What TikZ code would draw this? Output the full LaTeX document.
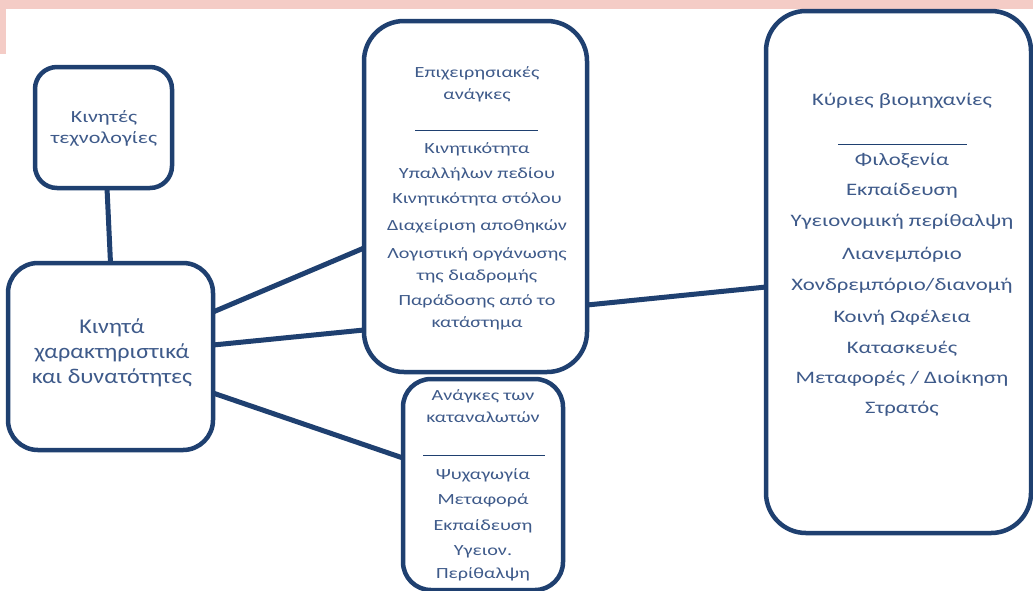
\documentclass[tikz,border=0pt]{standalone}
\usepackage{fontspec}
\setmainfont{Carlito}
\newfontfamily\wfont[FakeStretch=1.3]{Carlito}
\newfontfamily\mfont[FakeStretch=1.15]{Carlito}
\definecolor{navy}{RGB}{31,64,112}
\definecolor{txtblue}{RGB}{62,90,138}
\definecolor{pinkbar}{RGB}{244,204,198}
\begin{document}
\begin{tikzpicture}[x=1pt,y=-1pt,
  box/.style={draw=navy,line width=4.5pt,fill=white,inner sep=0pt,outer sep=0pt},
  conn/.style={draw=navy,line width=5pt},
  sep/.style={draw=navy,line width=1pt},
  txt/.style={text=txtblue,inner sep=0pt,anchor=center,text height=0.75em,text depth=0.25em}]
\useasboundingbox (0,0) rectangle (1033,590);
\fill[white] (0,0) rectangle (1033,590);
\fill[pinkbar] (0,0) rectangle (1033,9);
\fill[pinkbar] (0,0) rectangle (6,54);
% boxes
\node[box,rounded corners=22pt,minimum width=137pt,minimum height=121pt] (small) at (103.5,127.5) {};
\node[box,rounded corners=30pt,minimum width=205pt,minimum height=187pt] (main) at (110.5,356.5) {};
\node[box,rounded corners=40pt,minimum width=223pt,minimum height=351pt] (mid) at (475.5,196.5) {};
\node[box,rounded corners=28pt,minimum width=160pt,minimum height=211pt] (cons) at (483,484.5) {};
\node[box,rounded corners=40pt,minimum width=265pt,minimum height=522pt] (ind) at (898.5,272) {};
% connectors
\draw[conn] ([xshift=3.5pt]small.south) -- (main.north);
\draw[conn] ([yshift=44.5pt]main.east) -- ([yshift=-51.5pt]mid.west);
\draw[conn] ([yshift=11.5pt]main.east) -- ([yshift=-133.5pt]mid.west);
\draw[conn] ([yshift=-36.5pt]main.east) -- ([yshift=26.5pt]cons.west);
\draw[conn] ([yshift=-108.5pt]mid.east) -- ([yshift=-15pt]ind.west);
% small box text
\foreach \t/\y [count=\i] in {{Κινητές}/120,{τεχνολογίες}/141}
  \node[txt,font=\wfont\fontsize{17}{20}\selectfont] (st\i) at (104,\y) {\t};
% main box text
\foreach \t/\y [count=\i] in {{Κινητά}/331,{χαρακτηριστικά}/356,{και δυνατότητες}/381}
  \node[txt,font=\mfont\fontsize{21}{25}\selectfont] (mt\i) at (112,\y) {\t};
% middle box text
\foreach \t/\y [count=\i] in {{Επιχειρησιακές}/75,{ανάγκες}/97,{Κινητικότητα}/151,{Υπαλλήλων πεδίου}/176,{Κινητικότητα στόλου}/201,{Διαχείριση αποθηκών}/228,{Λογιστική οργάνωσης}/256,{της διαδρομής}/278,{Παράδοσης από το}/303,{κατάστημα}/325}
  \node[txt,font=\wfont\fontsize{15.5}{18}\selectfont] (bt\i) at (477,\y) {\t};
\draw[sep] (415,130) -- (538,130);
% consumer box text
\foreach \t/\y [count=\i] in {{Ανάγκες των}/398,{καταναλωτών}/420,{Ψυχαγωγία}/477,{Μεταφορά}/502,{Εκπαίδευση}/528,{Υγειον.}/553,{Περίθαλψη}/576}
  \node[txt,font=\wfont\fontsize{15.5}{18}\selectfont] (ct\i) at (483,\y) {\t};
\draw[sep] (423,455) -- (545,455);
% industries box text
\foreach \t/\y [count=\i] in {{Κύριες βιομηχανίες}/103,{Φιλοξενία}/163,{Εκπαίδευση}/193,{Υγειονομική περίθαλψη}/224,{Λιανεμπόριο}/257,{Χονδρεμπόριο/διανομή}/288,{Κοινή Ωφέλεια}/320,{Κατασκευές}/351,{Μεταφορές / Διοίκηση}/381,{Στρατός}/411}
  \node[txt,font=\wfont\fontsize{17.5}{21}\selectfont] (it\i) at (902,\y) {\t};
\draw[sep] (838,144) -- (967,144);
\end{tikzpicture}
\end{document}
